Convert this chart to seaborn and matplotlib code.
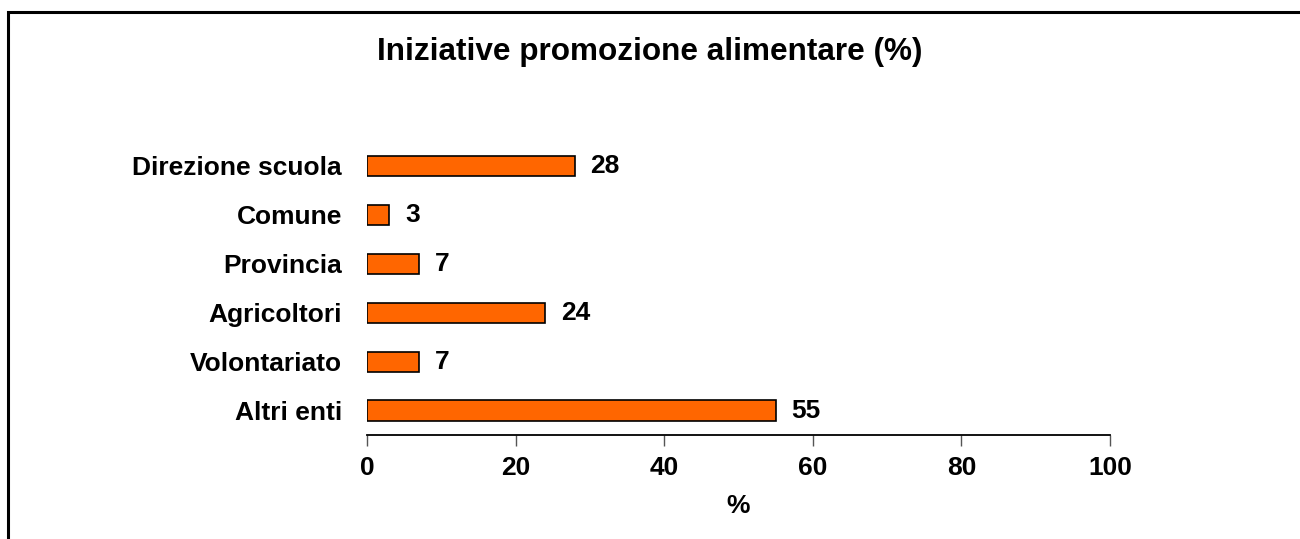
import matplotlib
matplotlib.use("Agg")
import matplotlib.pyplot as plt
import seaborn as sns
import pandas as pd
from matplotlib.patches import Rectangle

# dati
categorie = ["Direzione scuola", "Comune", "Provincia", "Agricoltori", "Volontariato", "Altri enti"]
valori = [28, 3, 7, 24, 7, 55]
tick_x = [0, 20, 40, 60, 80, 100]

sns.set_style("white")
plt.rcParams['font.family'] = ['Liberation Sans', 'DejaVu Sans']
plt.rcParams['text.color'] = 'black'
plt.rcParams['axes.labelcolor'] = 'black'
plt.rcParams['xtick.labelcolor'] = 'black'
plt.rcParams['ytick.labelcolor'] = 'black'

df = pd.DataFrame({"ente": categorie, "perc": valori})

fig = plt.figure(figsize=(13, 5.39), dpi=100)
ax = fig.add_axes([0.2823, 0.193, 0.5715, 0.5445])

sns.barplot(data=df, x="perc", y="ente", orient="h", color="#FF6600",
            edgecolor="black", linewidth=1.2, width=0.41, saturation=1, ax=ax)

for i, v in enumerate(valori):
    ax.text(v + 2.1, i, str(v), va="center", ha="left", fontsize=19, fontweight="bold")

ax.set_xlim(0, 100)
ax.set_ylim(len(categorie) - 0.5, -0.5)
ax.set_xticks(tick_x)
ax.set_xticklabels([str(t) for t in tick_x], fontsize=19, fontweight="bold")
ax.set_yticks(range(len(categorie)))
ax.set_yticklabels(categorie, fontsize=19, fontweight="bold")
ax.tick_params(axis="x", length=8, width=1, color="#555555", direction="out", pad=7, bottom=True)
ax.tick_params(axis="y", length=0, pad=18)
ax.set_xlabel("%", fontsize=19, fontweight="bold", labelpad=10)
ax.set_ylabel("")

for s in ["top", "right", "left"]:
    ax.spines[s].set_visible(False)
ax.spines["bottom"].set_linewidth(1.3)
ax.spines["bottom"].set_color("black")

fig.text(0.5, 0.903, "Iniziative promozione alimentare (%)", ha="center", va="center",
         fontsize=22.7, fontweight="bold")

# cornice esterna
fig.patches.append(Rectangle((7.5 / 1300, -0.1), 1.2, 1 - 12.5 / 539 + 0.1, transform=fig.transFigure,
                             fill=False, edgecolor="black", linewidth=2.2))

fig.savefig("out.png", dpi=100)
